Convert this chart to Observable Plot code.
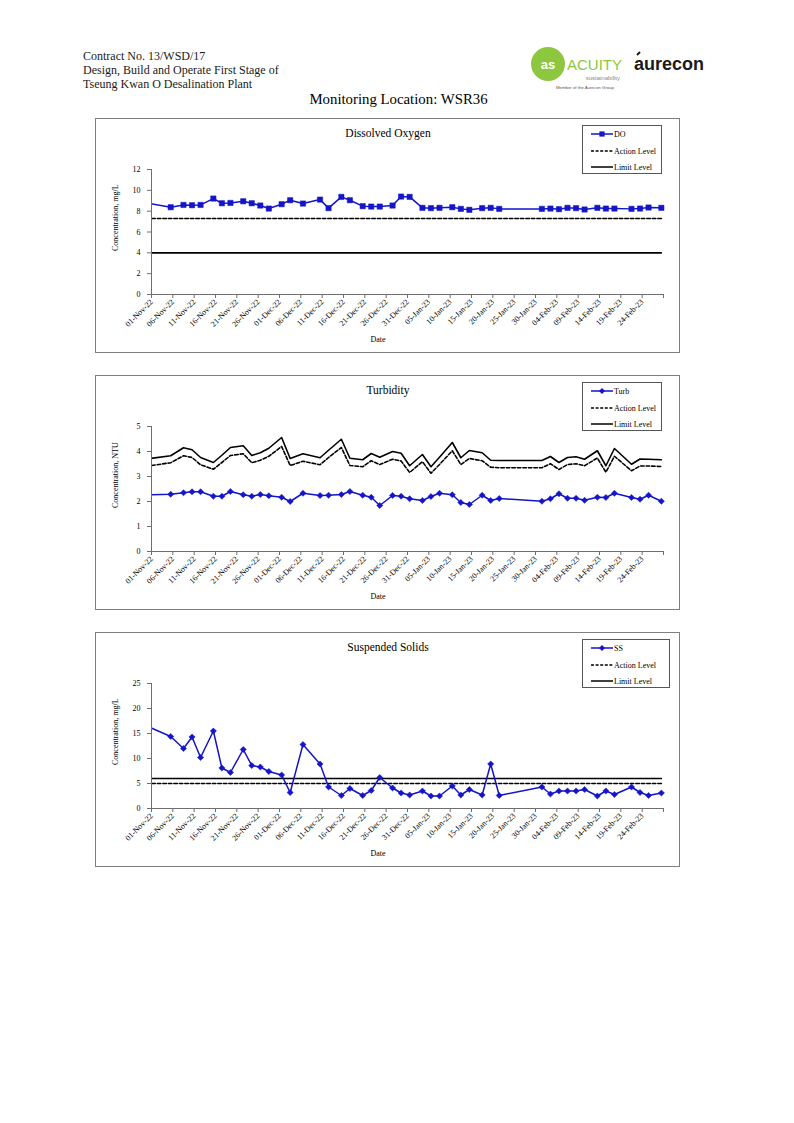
<!DOCTYPE html>
<html>
<head>
<meta charset="utf-8">
<script src="https://cdn.jsdelivr.net/npm/d3@7"></script>
<script src="https://cdn.jsdelivr.net/npm/@observablehq/plot@0.6"></script>
<style>
  html, body { margin: 0; padding: 0; background: #fff; }
  body { width: 794px; height: 1123px; position: relative; overflow: hidden; font-family: "Liberation Serif", "Times New Roman", serif; color: #000; }
  .hdr { position: absolute; left: 83px; font-size: 12px; line-height: 14px; color: #1a1a1a; white-space: nowrap; }
  .loc { position: absolute; left: 0; width: 797px; top: 91px; text-align: center; font-size: 14.8px; white-space: nowrap; }
  .chart { position: absolute; left: 95px; width: 585px; height: 235px; }
  .chart .frame { position: absolute; left: 0; top: 0; width: 585px; height: 235px; box-sizing: border-box; border: 1px solid #7f7f7f; }
  .chart svg.plot { position: absolute; left: 0; top: 0; overflow: visible; }
  .chart .title { position: absolute; left: 293px; top: 15px; transform: translate(-50%, -50%); font-size: 11.5px; white-space: nowrap; }
  .chart .ylab { position: absolute; left: 16.7px; top: 133px; transform-origin: 0 0; transform: rotate(-90deg); font-size: 8px; line-height: 8px; white-space: nowrap; }
  .chart .xlab { position: absolute; left: 283px; top: 221px; transform: translate(-50%, -50%); font-size: 8px; white-space: nowrap; }
  .chart .legend { position: absolute; top: 7px; left: 487px; height: 49px; box-sizing: border-box; border: 1px solid #555; background: #fff; overflow: hidden; }
  .chart .legend svg { position: absolute; left: -1px; top: -1px; }
</style>
</head>
<body>
<div class="hdr" style="top:49px">Contract No. 13/WSD/17</div>
<div class="hdr" style="top:63px">Design, Build and Operate First Stage of</div>
<div class="hdr" style="top:77px">Tseung Kwan O Desalination Plant</div>

<svg style="position:absolute;left:525px;top:44px" width="190" height="50" viewBox="525 44 190 50">
  <circle cx="548" cy="64" r="17" fill="#8dc63f"/>
  <text x="548" y="68.5" text-anchor="middle" font-family="Liberation Sans" font-weight="bold" font-size="13" fill="#fff">as</text>
  <text x="567" y="70" font-family="Liberation Sans" font-size="15" fill="#8dc63f">ACUITY</text>
  <text x="620" y="80" text-anchor="end" font-family="Liberation Sans" font-size="6" fill="#8a8a8a">sustainability</text>
  <text x="556" y="89" font-family="Liberation Sans" font-size="4.3" fill="#555">Member of the Aurecon Group</text>
  <text x="634" y="70" font-family="Liberation Sans" font-weight="bold" font-size="18" fill="#1a1a1a">aurecon</text>
  <line x1="637" y1="55" x2="640" y2="52" stroke="#1a1a1a" stroke-width="2"/>
</svg>

<div class="loc">Monitoring Location: WSR36</div>

<div id="charts"></div>

<script>
// ---------------- data ----------------
const sampleDates = [
  "2022-10-29",
  "2022-11-05","2022-11-08","2022-11-10","2022-11-12","2022-11-15","2022-11-17","2022-11-19","2022-11-22","2022-11-24","2022-11-26","2022-11-28",
  "2022-12-01","2022-12-03","2022-12-06","2022-12-10","2022-12-12","2022-12-15","2022-12-17","2022-12-20","2022-12-22","2022-12-24","2022-12-27","2022-12-29","2022-12-31",
  "2023-01-03","2023-01-05","2023-01-07","2023-01-10","2023-01-12","2023-01-14","2023-01-17","2023-01-19","2023-01-21","2023-01-31",
  "2023-02-02","2023-02-04","2023-02-06","2023-02-08","2023-02-10","2023-02-13","2023-02-15","2023-02-17","2023-02-21","2023-02-23","2023-02-25","2023-02-28"
];

const doValues = [
  8.88,
  8.38, 8.60, 8.57, 8.60, 9.21, 8.76, 8.79, 8.95, 8.76, 8.54, 8.25,
  8.67, 9.05, 8.73, 9.11, 8.29, 9.37, 9.05, 8.48, 8.44, 8.44, 8.54, 9.40, 9.37,
  8.32, 8.29, 8.32, 8.38, 8.22, 8.13, 8.29, 8.32, 8.22, 8.22,
  8.25, 8.19, 8.32, 8.29, 8.16, 8.32, 8.25, 8.25, 8.22, 8.25, 8.35, 8.32
];
const doActionLevel = 7.3;
const doLimitLevel = 4;

const turbValues = [
  2.26,
  2.29, 2.35, 2.39, 2.39, 2.21, 2.21, 2.40, 2.27, 2.21, 2.28, 2.23,
  2.17, 2.00, 2.33, 2.24, 2.25, 2.28, 2.40, 2.25, 2.17, 1.84, 2.24, 2.21, 2.11,
  2.04, 2.20, 2.33, 2.27, 1.96, 1.88, 2.25, 2.04, 2.12, 2.01,
  2.11, 2.31, 2.13, 2.13, 2.05, 2.17, 2.16, 2.33, 2.16, 2.09, 2.25, 2.01
];
const turbAction = [
  3.38,
  3.55, 3.83, 3.76, 3.47, 3.29, 3.56, 3.84, 3.91, 3.55, 3.65, 3.81,
  4.20, 3.44, 3.61, 3.47, 3.76, 4.16, 3.44, 3.39, 3.63, 3.48, 3.69, 3.62, 3.16,
  3.59, 3.13, 3.48, 4.03, 3.48, 3.72, 3.63, 3.37, 3.35, 3.35,
  3.51, 3.28, 3.48, 3.51, 3.43, 3.74, 3.17, 3.81, 3.23, 3.42, 3.42, 3.40
];
const turbLimit = [
  3.67,
  3.83, 4.15, 4.07, 3.76, 3.56, 3.85, 4.16, 4.23, 3.84, 3.95, 4.13,
  4.56, 3.72, 3.91, 3.75, 4.05, 4.49, 3.73, 3.67, 3.92, 3.77, 4.00, 3.93, 3.43,
  3.88, 3.39, 3.77, 4.36, 3.75, 4.04, 3.95, 3.65, 3.64, 3.64,
  3.80, 3.56, 3.76, 3.79, 3.69, 4.03, 3.43, 4.12, 3.49, 3.70, 3.69, 3.67
];

const ssValues = [
  17.0,
  14.4, 12.0, 14.3, 10.2, 15.5, 8.1, 7.2, 11.8, 8.6, 8.3, 7.4,
  6.7, 3.2, 12.8, 8.9, 4.3, 2.6, 4.0, 2.6, 3.6, 6.2, 4.1, 3.1, 2.7,
  3.5, 2.5, 2.5, 4.5, 2.7, 3.8, 2.7, 8.9, 2.6, 4.3,
  2.9, 3.5, 3.5, 3.5, 3.8, 2.5, 3.5, 2.8, 4.3, 3.2, 2.6, 3.1
];
const ssActionLevel = 5;
const ssLimitLevel = 6;

const tickLabels = [
  "01-Nov-22","06-Nov-22","11-Nov-22","16-Nov-22","21-Nov-22","26-Nov-22",
  "01-Dec-22","06-Dec-22","11-Dec-22","16-Dec-22","21-Dec-22","26-Dec-22","31-Dec-22",
  "05-Jan-23","10-Jan-23","15-Jan-23","20-Jan-23","25-Jan-23","30-Jan-23",
  "04-Feb-23","09-Feb-23","14-Feb-23","19-Feb-23","24-Feb-23"
];
const axisEndLabel = "01-Mar-23";

const doTicks = [0, 2, 4, 6, 8, 10, 12];
const turbTicks = [0, 1, 2, 3, 4, 5];
const ssTicks = [0, 5, 10, 15, 20, 25];

// ---------------- drawing ----------------
const BLUE = "#1414c8";
const AXIS = "#6e6e6e";
const parseISO = d3.utcParse("%Y-%m-%d");
const parseTick = d3.utcParse("%d-%b-%y");
const dates = sampleDates.map(s => d3.utcHour.offset(parseISO(s), 12)); // Excel plots each day at its centre
const tickDates = tickLabels.map(parseTick);
const x0 = tickDates[0];
const x1 = parseTick(axisEndLabel);
const labelOf = new Map(tickLabels.map((s, i) => [+tickDates[i], s]));
const allTicks = [...tickDates, x1];

function makePlot({series, action, limit, ticks, symbol, r}) {
  const rows = dates.map((d, i) => ({x: d, v: series[i], a: action[i], l: limit[i]}));
  const shown = rows.filter(d => d.x >= x0);
  return Plot.plot({
    width: 585, height: 235,
    marginLeft: 56, marginRight: 17, marginTop: 51, marginBottom: 59,
    style: {fontFamily: "Liberation Serif, Times New Roman, serif", fontSize: "8px", background: "transparent", overflow: "visible", color: "#000"},
    x: {type: "utc", domain: [x0, x1]},
    y: {domain: [ticks[0], ticks[ticks.length - 1]]},
    marks: [
      Plot.lineY(rows, {x: "x", y: "l", stroke: "#000", strokeWidth: 1.6, clip: true}),
      Plot.lineY(rows, {x: "x", y: "a", stroke: "#000", strokeWidth: 1.6, strokeDasharray: "3.5,2", clip: true}),
      Plot.lineY(rows, {x: "x", y: "v", stroke: BLUE, strokeWidth: 1.5, clip: true}),
      Plot.dot(shown, {x: "x", y: "v", symbol, r, fill: BLUE, stroke: BLUE, strokeWidth: 0.5}),
      Plot.ruleY([ticks[0]], {stroke: AXIS}),
      Plot.ruleX([x0], {stroke: AXIS}),
      Plot.axisX(allTicks, {tickFormat: d => labelOf.get(+d) ?? "", tickRotate: -45, tickSize: 4, tickPadding: 2, stroke: AXIS, fill: "#000", label: null}),
      Plot.axisY(ticks, {tickSize: 4, tickPadding: 7, stroke: AXIS, fill: "#000", label: null})
    ]
  });
}

function legendSvg(name, symbol, width) {
  const w = width, lx1 = 9, lx2 = 31, tx = 32, mx = (lx1 + lx2) / 2;
  const r1 = 9, r2 = 26, r3 = 42;
  let marker = "";
  if (symbol === "square") marker = `<rect x="${mx-2.6}" y="${r1-2.6}" width="5.2" height="5.2" fill="${BLUE}"/>`;
  else marker = `<path d="M${mx},${r1-3} l3,3 l-3,3 l-3,-3z" fill="${BLUE}"/>`;
  return `<svg width="${w}" height="49" style="font-family:Liberation Serif;font-size:8px">
    <line x1="${lx1}" x2="${lx2}" y1="${r1}" y2="${r1}" stroke="${BLUE}" stroke-width="1.5"/>${marker}
    <text x="${tx}" y="${r1}" dy="0.33em">${name}</text>
    <line x1="${lx1}" x2="${lx2}" y1="${r2}" y2="${r2}" stroke="#000" stroke-width="1.5" stroke-dasharray="3,1.6"/>
    <text x="${tx}" y="${r2}" dy="0.33em">Action Level</text>
    <line x1="${lx1}" x2="${lx2}" y1="${r3}" y2="${r3}" stroke="#000" stroke-width="1.5"/>
    <text x="${tx}" y="${r3}" dy="0.33em">Limit Level</text>
  </svg>`;
}

const configs = [
  {top: 118, title: "Dissolved Oxygen", ylab: "Concentration, mg/L", name: "DO", symbol: "square", r: 3.0,
   series: doValues, action: sampleDates.map(() => doActionLevel), limit: sampleDates.map(() => doLimitLevel), ticks: doTicks, lw: 80},
  {top: 375, title: "Turbidity", ylab: "Concentration, NTU", name: "Turb", symbol: "diamond2", r: 2.8,
   series: turbValues, action: turbAction, limit: turbLimit, ticks: turbTicks, lw: 80},
  {top: 632, title: "Suspended Solids", ylab: "Concentration, mg/L", name: "SS", symbol: "diamond2", r: 2.8,
   series: ssValues, action: sampleDates.map(() => ssActionLevel), limit: sampleDates.map(() => ssLimitLevel), ticks: ssTicks, lw: 88}
];

const host = document.getElementById("charts");
for (const c of configs) {
  const div = document.createElement("div");
  div.className = "chart";
  div.style.top = c.top + "px";
  const frame = document.createElement("div"); frame.className = "frame"; div.appendChild(frame);
  const svg = makePlot(c);
  svg.classList.add("plot");
  div.appendChild(svg);
  const t = document.createElement("div"); t.className = "title"; t.textContent = c.title; div.appendChild(t);
  const yl = document.createElement("div"); yl.className = "ylab"; yl.textContent = c.ylab; div.appendChild(yl);
  const xl = document.createElement("div"); xl.className = "xlab"; xl.textContent = "Date"; div.appendChild(xl);
  const lg = document.createElement("div"); lg.className = "legend"; lg.style.width = c.lw + "px";
  lg.innerHTML = legendSvg(c.name, c.symbol, c.lw);
  div.appendChild(lg);
  host.appendChild(div);
}
</script>
</body>
</html>
